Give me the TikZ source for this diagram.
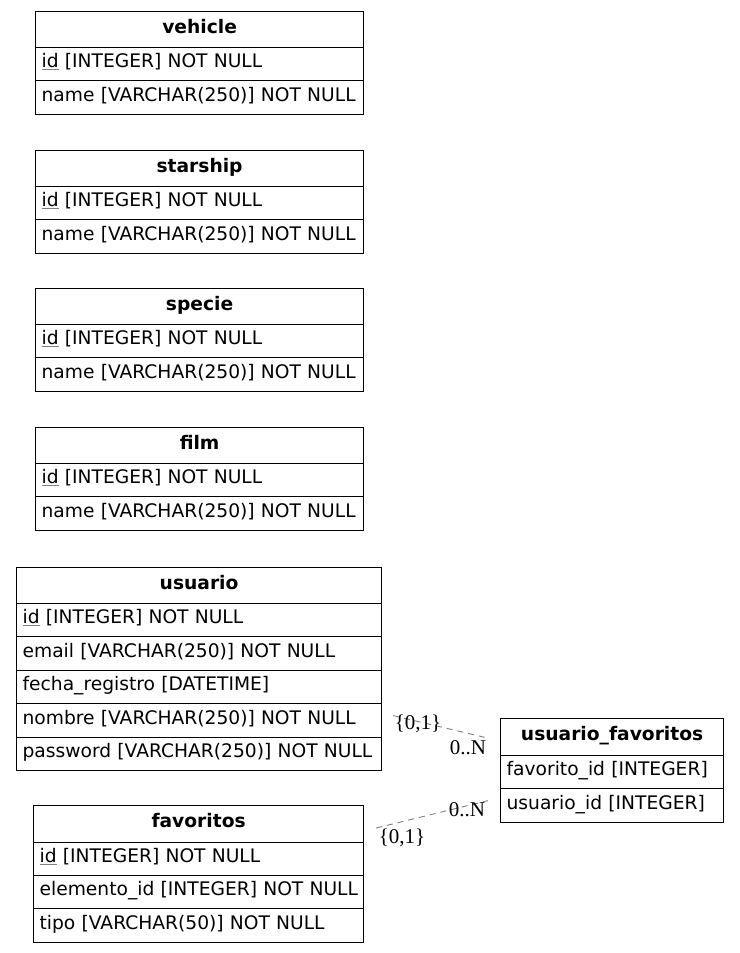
\documentclass[tikz,border=0pt]{standalone}
\usepackage{fontspec}
\newfontfamily\dejavu{DejaVu Sans}
\newfontfamily\lblserif{Liberation Serif}
\usetikzlibrary{calc}
\hbadness=10000 \hfuzz=50pt
\tikzset{
  tbl/.style={draw, line width=1.2pt, anchor=north west, inner xsep=6pt, inner ysep=0pt, align=left,
    text height=13pt, text depth=6pt,
    font=\dejavu\fontsize{18.67}{22}\selectfont},
  hdr/.style={tbl, align=center, font=\dejavu\bfseries\fontsize{18.67}{22}\selectfont},
  rel/.style={draw=gray, dash pattern=on 6pt off 5pt, line width=0.9pt},
  card/.style={font=\lblserif\fontsize{21}{22}\selectfont, inner sep=0pt}
}
\newcommand{\pk}[1]{{\color{gray}\underline{\color{black}#1}}}
\begin{document}
\begin{tikzpicture}[x=1pt,y=-1pt]
\useasboundingbox (0,0) rectangle (739,953);
% vehicle
\node[hdr, minimum height=36, text width=316] (vehicle) at (35,11) {vehicle};
\node[tbl, minimum height=33, text width=316] (vehicle-id) at (35,47) {\mbox{\pk{id} [INTEGER] NOT NULL}};
\node[tbl, minimum height=34, text width=316] (vehicle-name) at (35,80) {\mbox{name [VARCHAR(250)] NOT NULL}};
% starship
\node[hdr, minimum height=36, text width=316] (starship) at (35,150) {starship};
\node[tbl, minimum height=33, text width=316] (starship-id) at (35,186) {\mbox{\pk{id} [INTEGER] NOT NULL}};
\node[tbl, minimum height=34, text width=316] (starship-name) at (35,219) {\mbox{name [VARCHAR(250)] NOT NULL}};
% specie
\node[hdr, minimum height=36, text width=316] (specie) at (35,288) {specie};
\node[tbl, minimum height=33, text width=316] (specie-id) at (35,324) {\mbox{\pk{id} [INTEGER] NOT NULL}};
\node[tbl, minimum height=34, text width=316] (specie-name) at (35,357) {\mbox{name [VARCHAR(250)] NOT NULL}};
% film
\node[hdr, minimum height=36, text width=316] (film) at (35,427) {film};
\node[tbl, minimum height=33, text width=316] (film-id) at (35,463) {\mbox{\pk{id} [INTEGER] NOT NULL}};
\node[tbl, minimum height=34, text width=316] (film-name) at (35,496) {\mbox{name [VARCHAR(250)] NOT NULL}};
% usuario
\node[hdr, minimum height=36, text width=353] (usuario) at (16,567) {usuario};
\node[tbl, minimum height=33, text width=353] (usuario-id) at (16,603) {\mbox{\pk{id} [INTEGER] NOT NULL}};
\node[tbl, minimum height=34, text width=353] (usuario-email) at (16,636) {\mbox{email [VARCHAR(250)] NOT NULL}};
\node[tbl, minimum height=33, text width=353] (usuario-fecha) at (16,670) {\mbox{fecha\_registro [DATETIME]}};
\node[tbl, minimum height=34, text width=353] (usuario-nombre) at (16,703) {\mbox{nombre [VARCHAR(250)] NOT NULL}};
\node[tbl, minimum height=33, text width=353] (usuario-pw) at (16,737) {\mbox{password [VARCHAR(250)] NOT NULL}};
% favoritos
\node[hdr, minimum height=37, text width=318] (favoritos) at (33,805) {favoritos};
\node[tbl, minimum height=33, text width=318] (favoritos-id) at (33,842) {\mbox{\pk{id} [INTEGER] NOT NULL}};
\node[tbl, minimum height=33, text width=318] (favoritos-el) at (33,875) {\mbox{elemento\_id [INTEGER] NOT NULL}};
\node[tbl, minimum height=34, text width=318] (favoritos-tipo) at (33,908) {\mbox{tipo [VARCHAR(50)] NOT NULL}};
% usuario_favoritos
\node[hdr, minimum height=37, text width=211] (uf) at (500,718) {usuario\_favoritos};
\node[tbl, minimum height=33, text width=211] (uf-fav) at (500,755) {\mbox{favorito\_id [INTEGER]}};
\node[tbl, minimum height=34, text width=211] (uf-usr) at (500,788) {\mbox{usuario\_id [INTEGER]}};
% relations
\coordinate (r1a) at ($(usuario-nombre.east)+(11,-5)$);
\coordinate (r1b) at ($(uf.west)+(-12,1)$);
\coordinate (r2a) at ($(favoritos-id.north east)+(12,-14)$);
\coordinate (r2b) at ($(uf-usr.west)+(-12,-5)$);
\draw[rel] (r1a) -- (r1b);
\draw[rel] (r2a) -- (r2b);
\node[card] (c1a) at (418,724) {\{0,1\}};
\node[card] (c1b) at (468,748) {0..N};
\node[card] (c2b) at (467,810) {0..N};
\node[card] (c2a) at (402,838) {\{0,1\}};
\end{tikzpicture}
\end{document}
